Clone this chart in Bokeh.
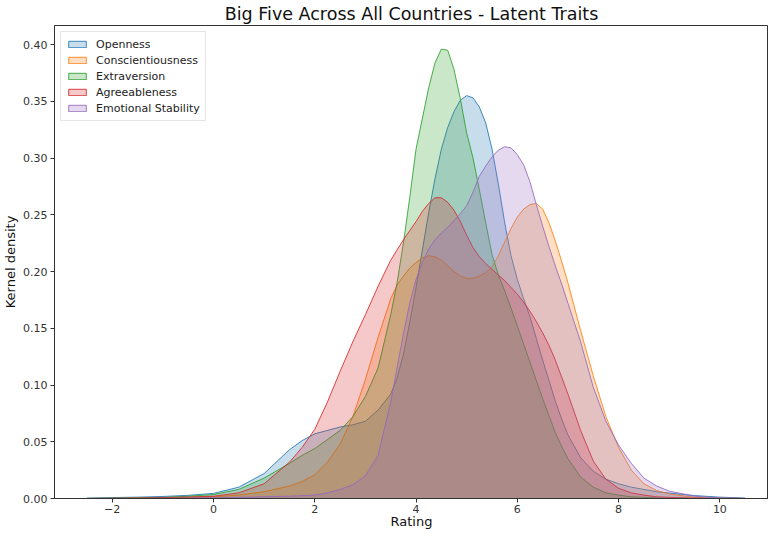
from bokeh.plotting import figure
from bokeh.models import Range1d, FixedTicker, PrintfTickFormatter, Legend, LegendItem
from bokeh.embed import file_html
from bokeh.resources import INLINE

# ---- data ----
x_grid = [-2.5, -2, -1.5, -1, -0.5, 0, 0.5, 1, 1.5, 1.75, 2, 2.25, 2.5, 2.75, 3, 3.25,
          3.5, 3.625, 3.75, 3.875, 4, 4.125, 4.25, 4.375, 4.5, 4.625, 4.75, 4.875,
          5, 5.125, 5.25, 5.375, 5.5, 5.625, 5.75, 5.875, 6, 6.125, 6.25, 6.375,
          6.5, 6.625, 6.75, 6.875, 7, 7.25, 7.5, 7.75, 8, 8.25, 8.5, 8.75, 9, 9.5, 10, 10.5]

openness = [0.0004, 0.0008, 0.0012, 0.0018, 0.0028, 0.0045, 0.010, 0.022, 0.043, 0.051, 0.057, 0.060, 0.063, 0.065, 0.068, 0.078,
            0.092, 0.106, 0.127, 0.155, 0.186, 0.219, 0.252, 0.282, 0.308, 0.327, 0.341, 0.351,
            0.355, 0.353, 0.345, 0.331, 0.308, 0.277, 0.243, 0.214, 0.193, 0.176, 0.160, 0.141,
            0.122, 0.104, 0.086, 0.070, 0.056, 0.036, 0.024, 0.017, 0.013, 0.010, 0.008, 0.006, 0.0048, 0.0026, 0.0012, 0.0004]

conscientiousness = [0.0, 0.0001, 0.0002, 0.0004, 0.0008, 0.0015, 0.003, 0.006, 0.011, 0.015, 0.021, 0.032, 0.048, 0.072, 0.105, 0.142,
                     0.176, 0.188, 0.196, 0.203, 0.208, 0.212, 0.214, 0.213, 0.210, 0.205, 0.200, 0.196,
                     0.194, 0.194, 0.196, 0.199, 0.204, 0.214, 0.226, 0.238, 0.248, 0.255, 0.259, 0.260,
                     0.255, 0.243, 0.227, 0.209, 0.190, 0.148, 0.108, 0.072, 0.045, 0.025, 0.013, 0.007, 0.004, 0.001, 0.0003, 0.0]

extraversion = [0.0, 0.0002, 0.0005, 0.001, 0.002, 0.0035, 0.008, 0.018, 0.031, 0.038, 0.044, 0.052, 0.060, 0.072, 0.090, 0.115,
                0.162, 0.190, 0.225, 0.265, 0.308, 0.335, 0.362, 0.384, 0.396, 0.395, 0.378, 0.352,
                0.322, 0.300, 0.272, 0.243, 0.215, 0.197, 0.183, 0.168, 0.152, 0.136, 0.120, 0.104,
                0.088, 0.073, 0.058, 0.046, 0.035, 0.019, 0.010, 0.005, 0.003, 0.0015, 0.001, 0.0005, 0.0003, 0.0001, 0.0, 0.0]

agreeableness = [0.0, 0.0002, 0.0004, 0.0008, 0.0013, 0.002, 0.005, 0.013, 0.032, 0.045, 0.061, 0.085, 0.112, 0.138, 0.162, 0.187,
                 0.210, 0.219, 0.228, 0.236, 0.244, 0.253, 0.260, 0.265, 0.265, 0.261, 0.254, 0.244,
                 0.232, 0.221, 0.213, 0.207, 0.202, 0.197, 0.192, 0.186, 0.180, 0.173, 0.165, 0.156,
                 0.146, 0.135, 0.122, 0.107, 0.092, 0.060, 0.033, 0.017, 0.009, 0.005, 0.003, 0.0015, 0.001, 0.0003, 0.0001, 0.0]

emotional_stability = [0.0, 0.0, 0.0001, 0.0002, 0.0004, 0.0007, 0.001, 0.0015, 0.002, 0.0025, 0.003, 0.005, 0.008, 0.012, 0.020, 0.038,
                       0.085, 0.115, 0.145, 0.172, 0.193, 0.208, 0.220, 0.228, 0.234, 0.239, 0.245, 0.251,
                       0.258, 0.270, 0.284, 0.293, 0.301, 0.307, 0.310, 0.309, 0.303, 0.294, 0.279, 0.259,
                       0.240, 0.222, 0.205, 0.189, 0.172, 0.138, 0.098, 0.068, 0.047, 0.031, 0.018, 0.011, 0.0065, 0.002, 0.0005, 0.0001]

labels = ["Openness", "Conscientiousness", "Extraversion", "Agreeableness", "Emotional Stability"]
series = [openness, conscientiousness, extraversion, agreeableness, emotional_stability]
colors = ["#1f77b4", "#ff7f0e", "#2ca02c", "#d62728", "#9467bd"]

x_ticks = [-2, 0, 2, 4, 6, 8, 10]
y_ticks = [0.0, 0.05, 0.10, 0.15, 0.20, 0.25, 0.30, 0.35, 0.40]
title_text = "Big Five Across All Countries - Latent Traits"

FONT = "DejaVu Sans"
AX = "#333333"

p = figure(width=768, height=531, output_backend="svg", toolbar_location=None,
           x_range=Range1d(-3.14, 10.96), y_range=Range1d(0.0, 0.4168),
           min_border_left=49, min_border_right=0, min_border_top=0, min_border_bottom=20,
           title=title_text)

p.title.align = "center"
p.title.offset = 4
p.title.standoff = 3
p.title.text_font = FONT
p.title.text_font_size = "17.5px"
p.title.text_font_style = "normal"
p.title.text_color = "#111111"
p.title.text_line_height = 1.0

p.xgrid.visible = False
p.ygrid.visible = False
p.outline_line_color = AX
p.outline_line_width = 1

for ax in (p.xaxis, p.yaxis):
    ax.axis_line_color = AX
    ax.major_tick_line_color = AX
    ax.minor_tick_line_color = None
    ax.major_tick_out = 4
    ax.major_tick_in = 0
    ax.major_label_text_font = FONT
    ax.major_label_text_font_size = "11px"
    ax.major_label_text_color = "#333333"
    ax.major_label_text_line_height = 1.0
    ax.axis_label_text_font = FONT
    ax.axis_label_text_font_size = "13px"
    ax.axis_label_text_font_style = "normal"
    ax.axis_label_text_color = "#111111"
    ax.axis_label_text_line_height = 1.0

p.xaxis.major_label_standoff = 2
p.xaxis.axis_label_standoff = -2
p.yaxis.major_label_standoff = 3
p.yaxis.axis_label_standoff = 2

p.xaxis.ticker = FixedTicker(ticks=x_ticks)
p.xaxis.major_label_overrides = {t: (("\u2212" + str(-t)) if t < 0 else str(t)) for t in x_ticks}
p.xaxis.axis_label = "Rating"
p.yaxis.ticker = FixedTicker(ticks=y_ticks)
p.yaxis.formatter = PrintfTickFormatter(format="%.2f")
p.yaxis.axis_label = "Kernel density"

renderers = {}
for lab, ys, col in zip(labels, series, colors):
    px = x_grid + [x_grid[-1], x_grid[0]]
    py = ys + [0.0, 0.0]
    r = p.patch(px, py, fill_color=col, fill_alpha=0.25, line_color=col, line_alpha=0.85, line_width=1)
    renderers[lab] = r

legend = Legend(items=[LegendItem(label=lab, renderers=[renderers[lab]]) for lab in labels],
                location="top_left")
legend.margin = 6
legend.padding = 5
legend.spacing = 2
legend.glyph_width = 22
legend.glyph_height = 8
legend.label_height = 14
legend.label_standoff = 8
legend.label_text_font = FONT
legend.label_text_font_size = "11px"
legend.label_text_color = "#222222"
legend.border_line_color = "#cccccc"
legend.background_fill_alpha = 0.8
p.add_layout(legend)

open("out.html", "w").write(file_html(p, INLINE))
